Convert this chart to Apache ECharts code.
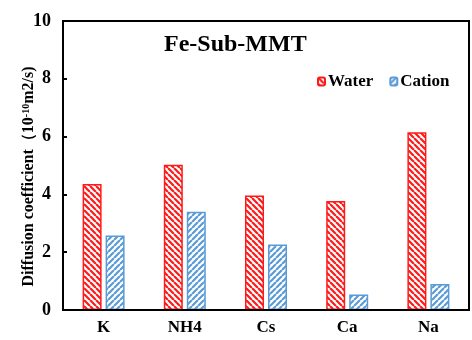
<!DOCTYPE html>
<html><head><meta charset="utf-8">
<script src="https://cdn.jsdelivr.net/npm/echarts@6/dist/echarts.min.js"></script>
<style>html,body{margin:0;padding:0;background:#fff}#c{width:472px;height:340px}</style>
</head><body><div id="c"></div>
<script>
var categories = ['K', 'NH4', 'Cs', 'Ca', 'Na'];
var waterValues = [4.36, 5.03, 3.96, 3.77, 6.15];
var cationValues = [2.58, 3.40, 2.27, 0.54, 0.90];
var seriesNames = ['Water', 'Cation'];
var yTicks = [0, 2, 4, 6, 8, 10];

function hatch(color, dir) {
  var s = 6, c = document.createElement('canvas');
  c.width = s; c.height = s;
  var g = c.getContext('2d');
  g.fillStyle = '#fff'; g.fillRect(0, 0, s, s);
  g.strokeStyle = color; g.lineWidth = 2.2;
  g.beginPath();
  for (var k = -1; k <= 1; k++) {
    if (dir > 0) { g.moveTo(k * s, s); g.lineTo(k * s + s, 0); }
    else { g.moveTo(k * s, 0); g.lineTo(k * s + s, s); }
  }
  g.stroke();
  return { image: c, repeat: 'repeat' };
}
var RED = '#ff1a1a', BLUE = '#5b9bd5';
var font = 'Liberation Serif';
var chart = echarts.init(document.getElementById('c'));
chart.setOption({
  animation: false,
  title: { text: 'Fe-Sub-MMT', left: 159, top: 28,
    textStyle: { fontFamily: font, fontWeight: 'bold', fontSize: 24, color: '#000' } },
  legend: { left: 312, top: 68, itemWidth: 7, itemHeight: 8, itemGap: 16,
    textStyle: { fontFamily: font, fontWeight: 'bold', fontSize: 17, color: '#000', padding: [0, 0, 0, -2] },
    data: seriesNames },
  grid: { left: 63, right: 3, top: 21, bottom: 30, containLabel: false },
  xAxis: { type: 'category', data: categories,
    axisLine: { lineStyle: { color: '#000', width: 2 } },
    axisTick: { show: false },
    axisLabel: { fontFamily: font, fontWeight: 'bold', fontSize: 17, color: '#000', margin: 9 },
    splitLine: { show: false } },
  yAxis: { type: 'value', min: 0, max: 10, interval: 2,
    name: '{a|Diffusion coefficient（10}{s|-10}{a|m2/s)}',
    nameLocation: 'middle', nameGap: 26, nameRotate: 90, nameMoveOverlap: false,
    nameTextStyle: { padding: [0, 22, 0, 0], rich: {
      a: { fontFamily: font, fontWeight: 'bold', fontSize: 16, color: '#000', lineHeight: 16, verticalAlign: 'bottom' },
      s: { fontFamily: font, fontWeight: 'bold', fontSize: 10, color: '#000', lineHeight: 16, verticalAlign: 'top' } } },
    axisLine: { show: true, lineStyle: { color: '#000', width: 2 } },
    axisTick: { show: true, inside: true, length: 4, lineStyle: { color: '#000', width: 2 } },
    axisLabel: { fontFamily: font, fontWeight: 'bold', fontSize: 18, color: '#000', margin: 12,
      formatter: function (v) { return yTicks.indexOf(v) >= 0 ? String(v) : ''; } },
    splitLine: { show: false } },
  series: [
    { name: seriesNames[0], type: 'bar', data: waterValues, barWidth: 19, barGap: '21%',
      itemStyle: { color: hatch(RED, -1), borderColor: RED, borderWidth: 1.5 } },
    { name: seriesNames[1], type: 'bar', data: cationValues, barWidth: 19,
      itemStyle: { color: hatch(BLUE, 1), borderColor: BLUE, borderWidth: 1.5 } }
  ],
  graphic: [{ type: 'rect', shape: { x: 63, y: 21, width: 406, height: 289 },
    style: { fill: 'none', stroke: '#000', lineWidth: 2 }, silent: true, z: 100 }]
});
</script></body></html>
